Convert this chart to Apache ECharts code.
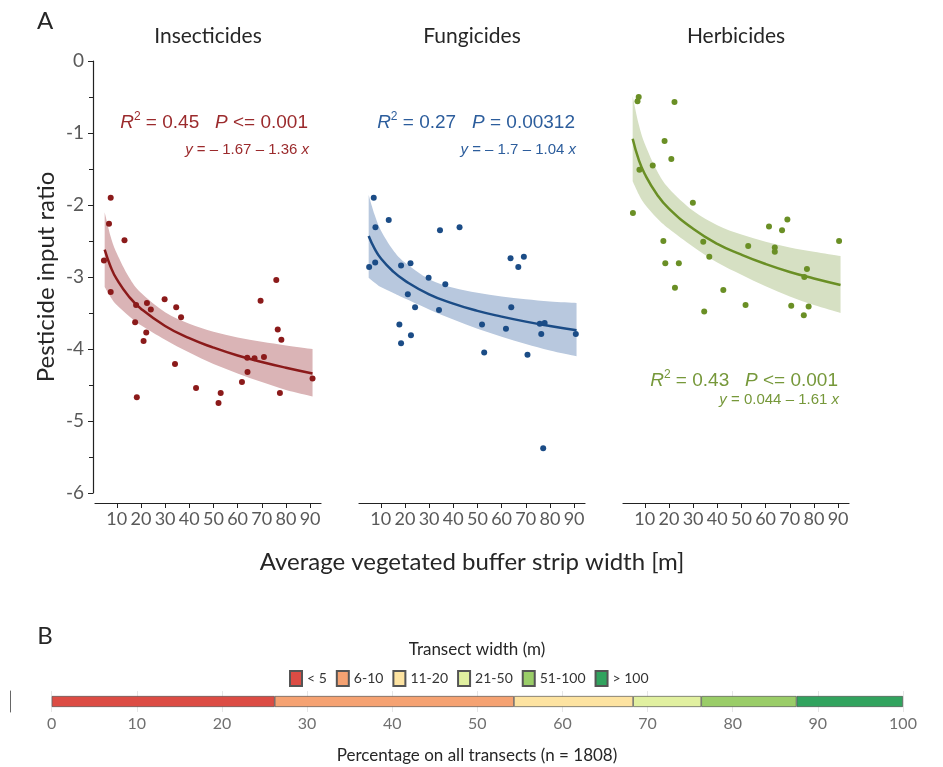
<!DOCTYPE html>
<html lang="en">
<head>
    <meta charset="utf-8"/>
    <title>Pesticide input ratio vs buffer strip width</title>
    <script src="https://cdn.jsdelivr.net/npm/echarts@6/dist/echarts.min.js"></script>
    <style>
        html, body { margin: 0; padding: 0; background: #fff; }
        #main { width: 943px; height: 767px; }
    </style>
</head>
<body>
<div id="main"></div>
<script>
    // --- A: points ---
    var insX = [4.7, 7.5, 6.8, 7.5, 13.2, 18.0, 17.6, 18.3, 22.5, 24.1, 22.2, 21.1, 29.8, 34.6, 36.6,
        34.1, 42.8, 52.1, 53.0, 61.8, 64.0, 64.1, 67.0, 70.9, 69.5, 76.0, 76.6, 78.1, 77.5, 91.0];
    var insY = [-2.77, -1.90, -2.26, -3.21, -2.49, -3.39, -3.63, -4.67, -3.36, -3.45, -3.77, -3.89, -3.31, -3.42, -3.56,
        -4.21, -4.54, -4.75, -4.61, -4.46, -4.12, -4.32, -4.13, -4.11, -3.33, -3.04, -3.73, -3.87, -4.61, -4.41];

    var fungX = [5.2, 7.1, 7.8, 7.7, 13.3, 18.4, 22.3, 21.2, 24.2, 17.7, 18.4, 22.5, 29.8, 34.5, 36.7,
        34.1, 42.6, 51.9, 52.8, 61.8, 64.0, 63.7, 66.9, 69.2, 70.7, 75.8, 77.8, 76.4, 77.2, 90.7];
    var fungY = [-2.86, -1.90, -2.31, -2.80, -2.21, -2.84, -2.81, -3.24, -3.42, -3.66, -3.92, -3.81, -3.01, -2.35, -3.10,
        -3.46, -2.31, -3.66, -4.05, -3.72, -3.42, -2.74, -2.86, -2.72, -4.08, -3.65, -3.64, -3.79, -5.38, -3.79];

    var herbX = [5.1, 7.0, 7.5, 7.8, 13.3, 18.2, 21.0, 22.3, 17.7, 18.5, 24.1, 22.5, 29.9, 34.2, 36.7,
        34.6, 42.5, 51.7, 52.8, 61.4, 63.8, 63.8, 66.8, 69.0, 70.6, 75.8, 77.1, 76.0, 77.8, 90.4];
    var herbY = [-2.11, -0.56, -0.50, -1.51, -1.45, -1.11, -1.36, -0.57, -2.50, -2.81, -2.81, -3.15, -1.97, -2.51, -2.72,
        -3.48, -3.18, -3.39, -2.57, -2.30, -2.59, -2.65, -2.35, -2.20, -3.40, -3.53, -2.89, -3.00, -3.41, -2.50];

    // fitted curves and confidence bands, read at these widths
    var fitX = [5, 7.5, 10, 15, 20, 30, 40, 50, 60, 70, 80, 91];
    var insFit = [-2.62, -2.86, -3.03, -3.27, -3.44, -3.68, -3.85, -3.98, -4.09, -4.18, -4.26, -4.34];
    var insUpper = [-2.10, -2.44, -2.67, -3.00, -3.22, -3.49, -3.65, -3.76, -3.84, -3.90, -3.95, -4.00];
    var insLower = [-3.14, -3.28, -3.39, -3.54, -3.67, -3.87, -4.05, -4.21, -4.34, -4.46, -4.57, -4.66];
    var fungFit = [-2.43, -2.61, -2.74, -2.92, -3.05, -3.24, -3.37, -3.47, -3.55, -3.62, -3.68, -3.74];
    var fungUpper = [-1.86, -2.14, -2.35, -2.62, -2.80, -3.03, -3.15, -3.22, -3.27, -3.31, -3.34, -3.36];
    var fungLower = [-3.01, -3.08, -3.14, -3.22, -3.30, -3.45, -3.59, -3.72, -3.83, -3.93, -4.02, -4.10];
    var herbFit = [-1.08, -1.37, -1.57, -1.85, -2.05, -2.33, -2.54, -2.69, -2.82, -2.93, -3.02, -3.11];
    var herbUpper = [-0.49, -0.88, -1.15, -1.52, -1.77, -2.08, -2.28, -2.41, -2.51, -2.59, -2.65, -2.71];
    var herbLower = [-1.67, -1.85, -1.99, -2.18, -2.33, -2.58, -2.80, -2.97, -3.13, -3.27, -3.39, -3.50];

    var xTicks = [10, 20, 30, 40, 50, 60, 70, 80, 90];

    // --- B: transect width shares ---
    var widthClasses = ['< 5', '6-10', '11-20', '21-50', '51-100', '> 100'];
    var widthShares = [26.2, 28.1, 14.0, 8.0, 11.2, 12.5];
    var pctTicks = [0, 10, 20, 30, 40, 50, 60, 70, 80, 90, 100];
    var classColors = ['#dc4c44', '#f5a272', '#fde3a1', '#e1f0a0', '#9acd68', '#31a35e'];

    var UI = 'Lato, "Open Sans", sans-serif';
    var AR = '"Liberation Sans", Arial, sans-serif';

    function zip(xs, ys) {
        return xs.map(function (x, i) { return [x, ys[i]]; });
    }

    // catmull-rom through pixel points, written as bezier segments
    function curveThrough(pts) {
        var d = '';
        for (var i = 0; i < pts.length - 1; i++) {
            var p0 = pts[i - 1] || pts[i], p1 = pts[i], p2 = pts[i + 1], p3 = pts[i + 2] || pts[i + 1];
            var c1 = [p1[0] + (p2[0] - p0[0]) / 6, p1[1] + (p2[1] - p0[1]) / 6];
            var c2 = [p2[0] - (p3[0] - p1[0]) / 6, p2[1] - (p3[1] - p1[1]) / 6];
            d += ' C' + c1[0] + ' ' + c1[1] + ' ' + c2[0] + ' ' + c2[1] + ' ' + p2[0] + ' ' + p2[1];
        }
        return d;
    }

    function bandSeries(i, up, lo, color) {
        return {
            type: 'custom', xAxisIndex: i, yAxisIndex: i, silent: true, z: 1,
            data: [[fitX[0], up[0]]],
            renderItem: function (params, api) {
                var top = fitX.map(function (x, k) { return api.coord([x, up[k]]); });
                var bot = fitX.map(function (x, k) { return api.coord([x, lo[k]]); }).reverse();
                var d = 'M' + top[0][0] + ' ' + top[0][1] + curveThrough(top) +
                    ' L' + bot[0][0] + ' ' + bot[0][1] + curveThrough(bot) + ' Z';
                return {type: 'path', shape: {pathData: d}, style: {fill: color}};
            }
        };
    }

    var panels = [
        {x: insX, y: insY, fit: insFit, up: insUpper, lo: insLower, color: '#8b1a1a', band: '#dab4b6'},
        {x: fungX, y: fungY, fit: fungFit, up: fungUpper, lo: fungLower, color: '#1b4c86', band: '#b8c8de'},
        {x: herbX, y: herbY, fit: herbFit, up: herbUpper, lo: herbLower, color: '#6a8f25', band: '#d6e0c3'}
    ];

    var grids = [
        {left: 95, top: 61, width: 226, height: 432},
        {left: 359, top: 61, width: 226, height: 432},
        {left: 623, top: 61, width: 226, height: 432},
        {left: 10, top: 691, width: 933, height: 21}
    ];

    var xAxes = [], yAxes = [], series = [];
    panels.forEach(function (p, i) {
        xAxes.push({
            gridIndex: i, type: 'value', min: 1, max: 94.5, offset: 10,
            axisLine: {onZero: false, lineStyle: {color: '#222', width: 1.2}},
            axisTick: {customValues: xTicks, length: 5, lineStyle: {color: '#222'}},
            axisLabel: {customValues: xTicks, fontFamily: UI, fontSize: 18, color: '#595959', margin: 7},
            splitLine: {show: false}
        });
        yAxes.push({
            gridIndex: i, type: 'value', min: -6, max: 0, interval: 1, show: i === 0, offset: 2,
            axisLine: {show: true, onZero: false, lineStyle: {color: '#222', width: 1.2}},
            axisTick: {show: true, length: 5, lineStyle: {color: '#222'}},
            minorTick: {show: true, splitNumber: 2, length: 4, lineStyle: {color: '#222'}},
            axisLabel: {fontFamily: UI, fontSize: 19, color: '#595959', margin: 9},
            splitLine: {show: false}
        });
        series.push(bandSeries(i, p.up, p.lo, p.band));
        series.push({
            type: 'line', xAxisIndex: i, yAxisIndex: i, data: zip(fitX, p.fit), smooth: true,
            symbol: 'none', lineStyle: {color: p.color, width: 2.5}, z: 3
        });
        series.push({
            type: 'scatter', xAxisIndex: i, yAxisIndex: i, data: zip(p.x, p.y), symbolSize: 6,
            itemStyle: {color: p.color, opacity: 1}, z: 4
        });
    });

    xAxes.push({
        gridIndex: 3, type: 'value', min: -4.9, max: 104.7,
        axisLine: {onZero: false, lineStyle: {color: '#666'}},
        axisTick: {customValues: pctTicks, length: 4, lineStyle: {color: '#888'}},
        axisLabel: {customValues: pctTicks, fontFamily: UI, fontSize: 16, color: '#707070', margin: 4},
        splitLine: {show: true, lineStyle: {color: '#e6e6e6'}}
    });
    yAxes.push({
        gridIndex: 3, type: 'category', data: ['all'],
        axisLine: {show: true, onZero: false, lineStyle: {color: '#666'}},
        axisTick: {show: false}, axisLabel: {show: false}
    });
    widthClasses.forEach(function (name, k) {
        series.push({
            type: 'bar', name: name, xAxisIndex: 3, yAxisIndex: 3, stack: 'pct', barWidth: 11,
            data: [widthShares[k]],
            itemStyle: {color: classColors[k], borderColor: '#555', borderWidth: 0.7}
        });
    });

    function stat(x, y, yEq, main, eq, color) {
        return [
            {
                type: 'text', x: x, y: y, style: {
                    text: main, align: 'right', verticalAlign: 'middle', fill: color,
                    rich: {
                        i: {fontFamily: AR, fontSize: 19, fontStyle: 'italic', fill: color},
                        n: {fontFamily: AR, fontSize: 19, fill: color},
                        s: {fontFamily: AR, fontSize: 12, fill: color, padding: [0, 0, 12, 0]}
                    }
                }
            },
            {
                type: 'text', x: x + 1, y: yEq, style: {
                    text: eq, align: 'right', verticalAlign: 'middle', fill: color,
                    rich: {
                        i: {fontFamily: AR, fontSize: 15, fontStyle: 'italic', fill: color},
                        n: {fontFamily: AR, fontSize: 15, fill: color}
                    }
                }
            }
        ];
    }

    function label(text, x, y, size, extra) {
        var el = {
            type: 'text', x: x, y: y, style: {
                text: text, fontFamily: UI, fontSize: size, fill: '#262626',
                align: 'center', verticalAlign: 'middle'
            }
        };
        if (extra) { for (var k in extra) el[k] = extra[k]; }
        return el;
    }

    var graphics = [
        label('A', 45, 21, 24),
        label('B', 45, 636, 24),
        label('Insecticides', 208, 36, 21),
        label('Fungicides', 472, 36, 21),
        label('Herbicides', 736, 36, 21),
        label('Pesticide input ratio', 46, 277, 24, {rotation: Math.PI / 2}),
        label('Average vegetated buffer strip width [m]', 472, 562, 24),
        label('Transect width (m)', 477, 650, 17),
        label('Percentage on all transects (n = 1808)', 477, 756, 17)
    ];
    graphics = graphics
        .concat(stat(308, 123, 150, '{i|R}{s|2}{n| = 0.45   }{i|P}{n| <= 0.001}', '{i|y}{n| = – 1.67 – 1.36 }{i|x}', '#9b2a2c'))
        .concat(stat(575, 123, 150, '{i|R}{s|2}{n| = 0.27   }{i|P}{n| = 0.00312}', '{i|y}{n| = – 1.7 – 1.04 }{i|x}', '#2c5d9c'))
        .concat(stat(838, 381, 400, '{i|R}{s|2}{n| = 0.43   }{i|P}{n| <= 0.001}', '{i|y}{n| = 0.044 – 1.61 }{i|x}', '#76983a'));

    var chart = echarts.init(document.getElementById('main'));
    chart.setOption({
        animation: false,
        backgroundColor: '#fff',
        grid: grids,
        xAxis: xAxes,
        yAxis: yAxes,
        legend: {
            data: widthClasses, top: 665, left: 284, icon: 'rect',
            itemWidth: 12, itemHeight: 15, itemGap: 9,
            textStyle: {fontFamily: UI, fontSize: 14, color: '#333'}
        },
        graphic: graphics,
        series: series
    });
</script>
</body>
</html>
